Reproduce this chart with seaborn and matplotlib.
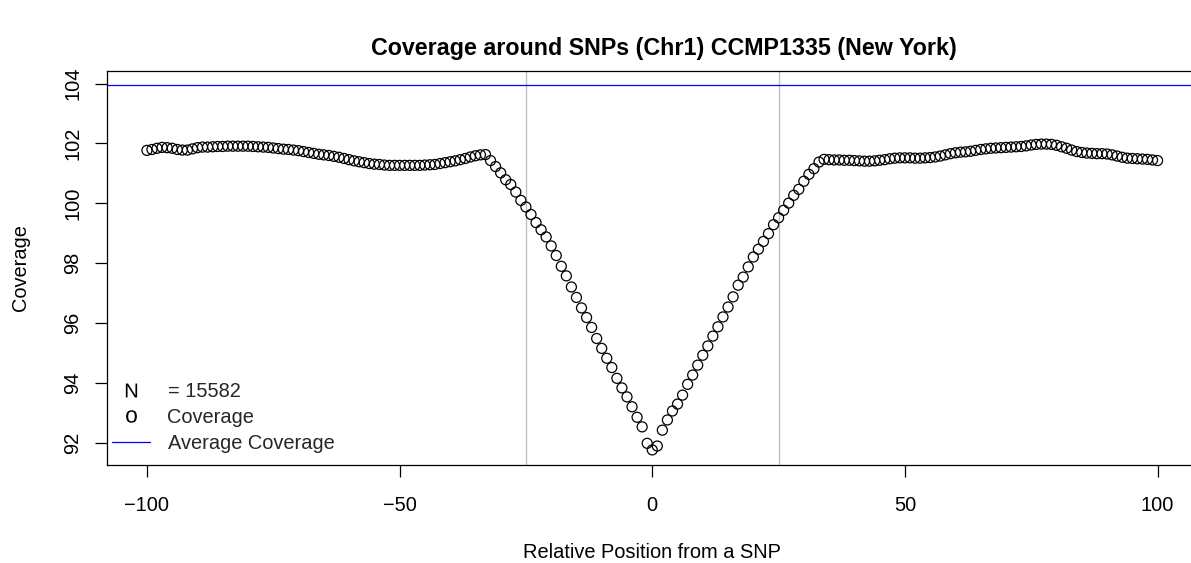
import numpy as np
import pandas as pd
import matplotlib
matplotlib.use("Agg")
import matplotlib.pyplot as plt
from matplotlib.lines import Line2D
import seaborn as sns

# Mean read coverage at each offset from a SNP (positions -100 .. 100)
positions = list(range(-100, 101))

coverage_left = [
    101.77, 101.80, 101.84, 101.87, 101.86, 101.84, 101.80, 101.78, 101.78, 101.82,
    101.86, 101.88, 101.88, 101.89, 101.90, 101.90, 101.91, 101.91, 101.91, 101.91,
    101.91, 101.90, 101.89, 101.88, 101.87, 101.85, 101.83, 101.81, 101.80, 101.78,
    101.76, 101.73, 101.70, 101.67, 101.64,
    101.62, 101.60, 101.57, 101.54, 101.50, 101.46, 101.42, 101.39, 101.36, 101.33,
    101.31, 101.30, 101.28, 101.27, 101.27, 101.27, 101.27, 101.27, 101.27, 101.27,
    101.28, 101.29, 101.30, 101.33, 101.36, 101.39, 101.42, 101.46, 101.50, 101.55,
    101.59, 101.62,
]
coverage_dip = [
    101.63, 101.43, 101.23, 101.02, 100.79, 100.63, 100.38, 100.10, 99.88, 99.63,
    99.36, 99.12, 98.88, 98.58, 98.26, 97.90, 97.58, 97.21, 96.86, 96.51,
    96.19, 95.86, 95.49, 95.16, 94.83, 94.52, 94.16, 93.84, 93.54, 93.21,
    92.86, 92.54, 91.99, 91.77, 91.90, 92.43, 92.77, 93.07, 93.30, 93.60,
    93.96, 94.27, 94.60, 94.93, 95.24, 95.57, 95.88, 96.21, 96.54, 96.88,
    97.27, 97.54, 97.88, 98.21, 98.47, 98.73, 98.99, 99.29, 99.52, 99.77,
    100.01, 100.27, 100.47, 100.74, 100.97, 101.16, 101.38,
]
coverage_right = [
    101.47, 101.46, 101.45, 101.45, 101.44, 101.44, 101.43, 101.42, 101.41, 101.41,
    101.42, 101.44, 101.46, 101.49, 101.51, 101.52, 101.52, 101.52, 101.51, 101.51,
    101.52, 101.53, 101.55, 101.58, 101.62, 101.66, 101.69, 101.71, 101.72, 101.74,
    101.77, 101.80, 101.82, 101.84, 101.85, 101.86, 101.87, 101.88, 101.89, 101.90,
    101.92, 101.95, 101.97, 101.98, 101.98, 101.97, 101.94, 101.89, 101.84, 101.78,
    101.73, 101.70, 101.68, 101.67, 101.66, 101.66, 101.65, 101.62, 101.58, 101.54,
    101.51, 101.50, 101.49, 101.48, 101.47, 101.45, 101.43,
]
coverage = coverage_left + coverage_dip + coverage_right

average_coverage = 103.94
window_edges = [-25, 25]
n_snps = 15582

title = "Coverage around SNPs (Chr1) CCMP1335 (New York)"
x_label = "Relative Position from a SNP"
y_label = "Coverage"
x_ticks = [-100, -50, 0, 50, 100]
y_ticks = [92, 94, 96, 98, 100, 102, 104]

df = pd.DataFrame({"position": positions, "coverage": coverage})

sns.set_theme(style="white")
plt.rcParams["font.family"] = ["Liberation Sans", "DejaVu Sans"]
plt.rcParams["axes.unicode_minus"] = True
plt.rcParams["mathtext.fontset"] = "custom"
plt.rcParams["mathtext.rm"] = "Liberation Sans"
plt.rcParams["mathtext.sf"] = "Liberation Sans"

W, H = 1191, 563
fig = plt.figure(figsize=(W / 100, H / 100), dpi=100)
# plot region runs slightly past the right edge of the canvas
ax_left, ax_right, ax_top, ax_bottom = 106.5, 1198.0, 70.8, 464.5
ax = fig.add_axes([ax_left / W, 1 - ax_bottom / H,
                   (ax_right - ax_left) / W, (ax_bottom - ax_top) / H])

sns.scatterplot(data=df, x="position", y="coverage", ax=ax, marker="o",
                s=52, linewidth=0.9, edgecolor="black", zorder=3, legend=False)
for coll in ax.collections:
    coll.set_facecolor("none")
    coll.set_edgecolor("black")

ax.axhline(average_coverage, color="#0000FF", lw=0.9, zorder=2)
for xv in window_edges:
    ax.axvline(xv, color="#BEBEBE", lw=1.0, zorder=1)

# R-style 4% padding around the data range
lo = min(min(coverage), average_coverage)
hi = max(max(coverage), average_coverage)
pad = 0.04 * (hi - lo)
ax.set_ylim(lo - pad, hi + pad)
ax.set_xlim(-108, 108)

ax.set_xticks(x_ticks)
ax.set_yticks(y_ticks)
ax.tick_params(axis="both", which="major", direction="out", length=8.6, width=0.9,
               color="black", labelsize=14.4, labelcolor="black", bottom=True, left=True)
ax.tick_params(axis="x", pad=14.0)
ax.tick_params(axis="y", pad=9)
for lab in ax.get_yticklabels():
    lab.set_rotation(90)
    lab.set_va("center")

for side in ["left", "right", "top", "bottom"]:
    ax.spines[side].set_visible(True)
    ax.spines[side].set_color("black")
    ax.spines[side].set_linewidth(0.9)

ax_h = ax_bottom - ax_top
ax_w = ax_right - ax_left
ax.set_xlabel(x_label, fontsize=14.4, color="black")
ax.set_ylabel(y_label, fontsize=14.4, color="black")
ax.xaxis.label.set_va("center")
ax.yaxis.label.set_va("center")
ax.xaxis.set_label_coords((652 - ax_left) / ax_w, -(553 - ax_bottom) / ax_h)
ax.yaxis.set_label_coords(-(ax_left - 20) / ax_w, 0.5)

fig.text(664 / W, 1 - 49 / H, title, ha="center", va="center",
         fontsize=16.75, fontweight="bold", color="black")

handles = [
    Line2D([], [], linestyle="none", marker=r"$\mathrm{N}$", color="black",
           markersize=10, markeredgewidth=0),
    Line2D([], [], linestyle="none", marker=r"$\mathrm{o}$", color="black",
           markersize=9, markeredgewidth=0),
    Line2D([], [], color="#0000FF", lw=0.9),
]
labels = [f"= {n_snps}", "Coverage", "Average Coverage"]
ax.legend(handles, labels, loc="lower left",
          bbox_to_anchor=(5 / ax_w, 11.5 / ax_h), frameon=False,
          fontsize=14.4, handlelength=1.9, handletextpad=0.9, labelspacing=0.35,
          borderaxespad=0, borderpad=0)

fig.savefig("out.png", dpi=100)
